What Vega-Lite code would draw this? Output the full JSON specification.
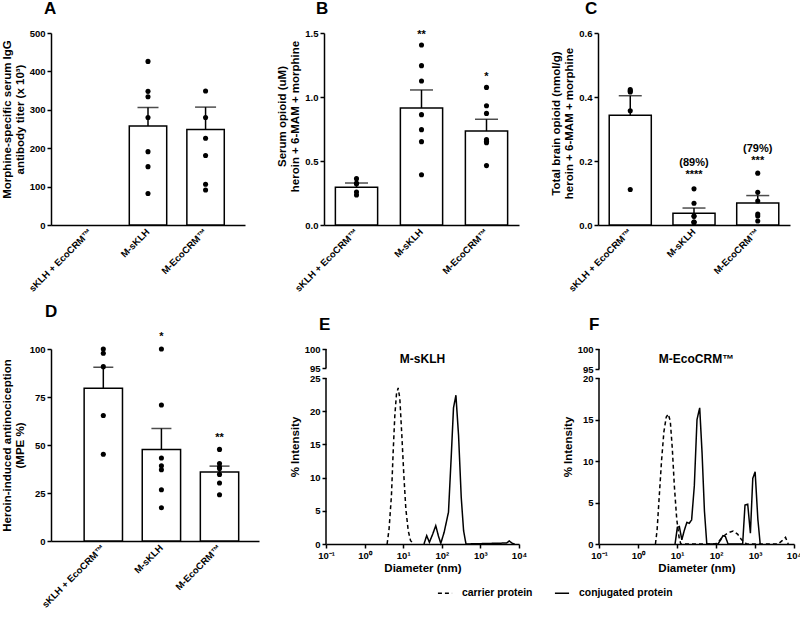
{
"$schema": "https://vega.github.io/schema/vega-lite/v6.json",
"padding": {"left": 1, "top": 0, "right": 0, "bottom": 0},
"background": "white",
"config": {
 "font": "Liberation Sans",
 "view": {"stroke": null},
 "axis": {"labelFont": "Liberation Sans", "labelFontWeight": "bold", "labelFontSize": 9.5, "labelColor": "black", "titleFont": "Liberation Sans", "titleFontWeight": "bold", "titleFontSize": 11.5, "titleColor": "black", "domainColor": "black", "domainWidth": 1.5, "tickColor": "black", "tickWidth": 1.5, "tickSize": 4, "grid": false, "labelPadding": 2, "titlePadding": 4, "titleLineHeight": 13, "labelOverlap": false},
 "title": {"font": "Liberation Sans", "fontSize": 17, "fontWeight": "bold", "anchor": "start", "frame": "group", "color": "black"},
 "text": {"font": "Liberation Sans", "fontWeight": "bold", "color": "black"}
},
"datasets": {
 "bars": [
  {"panel": "A", "group": "M-sKLH", "mean": 258, "upper": 306},
  {"panel": "A", "group": "M-EcoCRM™", "mean": 249, "upper": 307},
  {"panel": "B", "group": "sKLH + EcoCRM™", "mean": 0.294, "upper": 0.328},
  {"panel": "B", "group": "M-sKLH", "mean": 0.914, "upper": 1.055},
  {"panel": "B", "group": "M-EcoCRM™", "mean": 0.734, "upper": 0.826},
  {"panel": "C", "group": "sKLH + EcoCRM™", "mean": 0.343, "upper": 0.404},
  {"panel": "C", "group": "M-sKLH", "mean": 0.037, "upper": 0.053},
  {"panel": "C", "group": "M-EcoCRM™", "mean": 0.069, "upper": 0.092},
  {"panel": "D", "group": "sKLH + EcoCRM™", "mean": 79.6, "upper": 90.5},
  {"panel": "D", "group": "M-sKLH", "mean": 47.6, "upper": 58.6},
  {"panel": "D", "group": "M-EcoCRM™", "mean": 36.0, "upper": 39.0}
 ],
 "dots": [
  {"panel": "A", "group": "M-sKLH", "value": 426},
  {"panel": "A", "group": "M-sKLH", "value": 348},
  {"panel": "A", "group": "M-sKLH", "value": 334},
  {"panel": "A", "group": "M-sKLH", "value": 280},
  {"panel": "A", "group": "M-sKLH", "value": 191},
  {"panel": "A", "group": "M-sKLH", "value": 152},
  {"panel": "A", "group": "M-sKLH", "value": 82},
  {"panel": "A", "group": "M-EcoCRM™", "value": 349},
  {"panel": "A", "group": "M-EcoCRM™", "value": 280},
  {"panel": "A", "group": "M-EcoCRM™", "value": 226},
  {"panel": "A", "group": "M-EcoCRM™", "value": 181},
  {"panel": "A", "group": "M-EcoCRM™", "value": 106},
  {"panel": "A", "group": "M-EcoCRM™", "value": 91},
  {"panel": "B", "group": "sKLH + EcoCRM™", "value": 0.326},
  {"panel": "B", "group": "sKLH + EcoCRM™", "value": 0.323},
  {"panel": "B", "group": "sKLH + EcoCRM™", "value": 0.362},
  {"panel": "B", "group": "sKLH + EcoCRM™", "value": 0.234},
  {"panel": "B", "group": "sKLH + EcoCRM™", "value": 0.258},
  {"panel": "B", "group": "M-sKLH", "value": 1.406},
  {"panel": "B", "group": "M-sKLH", "value": 1.245},
  {"panel": "B", "group": "M-sKLH", "value": 1.125},
  {"panel": "B", "group": "M-sKLH", "value": 0.862},
  {"panel": "B", "group": "M-sKLH", "value": 0.745},
  {"panel": "B", "group": "M-sKLH", "value": 0.651},
  {"panel": "B", "group": "M-sKLH", "value": 0.393},
  {"panel": "B", "group": "M-EcoCRM™", "value": 1.075},
  {"panel": "B", "group": "M-EcoCRM™", "value": 0.932},
  {"panel": "B", "group": "M-EcoCRM™", "value": 0.872},
  {"panel": "B", "group": "M-EcoCRM™", "value": 0.667},
  {"panel": "B", "group": "M-EcoCRM™", "value": 0.654},
  {"panel": "B", "group": "M-EcoCRM™", "value": 0.643},
  {"panel": "B", "group": "M-EcoCRM™", "value": 0.464},
  {"panel": "C", "group": "sKLH + EcoCRM™", "value": 0.423},
  {"panel": "C", "group": "sKLH + EcoCRM™", "value": 0.416},
  {"panel": "C", "group": "sKLH + EcoCRM™", "value": 0.419},
  {"panel": "C", "group": "sKLH + EcoCRM™", "value": 0.357},
  {"panel": "C", "group": "sKLH + EcoCRM™", "value": 0.111},
  {"panel": "C", "group": "M-sKLH", "value": 0.113},
  {"panel": "C", "group": "M-sKLH", "value": 0.068},
  {"panel": "C", "group": "M-sKLH", "value": 0.028},
  {"panel": "C", "group": "M-sKLH", "value": 0.027},
  {"panel": "C", "group": "M-sKLH", "value": 0.009},
  {"panel": "C", "group": "M-sKLH", "value": 0.009},
  {"panel": "C", "group": "M-sKLH", "value": 0.008},
  {"panel": "C", "group": "M-EcoCRM™", "value": 0.162},
  {"panel": "C", "group": "M-EcoCRM™", "value": 0.102},
  {"panel": "C", "group": "M-EcoCRM™", "value": 0.075},
  {"panel": "C", "group": "M-EcoCRM™", "value": 0.034},
  {"panel": "C", "group": "M-EcoCRM™", "value": 0.028},
  {"panel": "C", "group": "M-EcoCRM™", "value": 0.0125},
  {"panel": "D", "group": "sKLH + EcoCRM™", "value": 100},
  {"panel": "D", "group": "sKLH + EcoCRM™", "value": 97.8},
  {"panel": "D", "group": "sKLH + EcoCRM™", "value": 90.8},
  {"panel": "D", "group": "sKLH + EcoCRM™", "value": 65.4},
  {"panel": "D", "group": "sKLH + EcoCRM™", "value": 45.2},
  {"panel": "D", "group": "M-sKLH", "value": 100},
  {"panel": "D", "group": "M-sKLH", "value": 70.8},
  {"panel": "D", "group": "M-sKLH", "value": 43.2},
  {"panel": "D", "group": "M-sKLH", "value": 39.2},
  {"panel": "D", "group": "M-sKLH", "value": 37.1},
  {"panel": "D", "group": "M-sKLH", "value": 26.7},
  {"panel": "D", "group": "M-sKLH", "value": 17.3},
  {"panel": "D", "group": "M-EcoCRM™", "value": 47.7},
  {"panel": "D", "group": "M-EcoCRM™", "value": 40.3},
  {"panel": "D", "group": "M-EcoCRM™", "value": 38.5},
  {"panel": "D", "group": "M-EcoCRM™", "value": 37.7},
  {"panel": "D", "group": "M-EcoCRM™", "value": 34.7},
  {"panel": "D", "group": "M-EcoCRM™", "value": 30.2},
  {"panel": "D", "group": "M-EcoCRM™", "value": 24.1}
 ],
 "dls": [
  {"panel": "E", "protein": "carrier protein", "diameter": 3.83, "intensity": 0},
  {"panel": "E", "protein": "carrier protein", "diameter": 4.31, "intensity": 2.3},
  {"panel": "E", "protein": "carrier protein", "diameter": 4.96, "intensity": 7.3},
  {"panel": "E", "protein": "carrier protein", "diameter": 5.49, "intensity": 13.8},
  {"panel": "E", "protein": "carrier protein", "diameter": 6.06, "intensity": 19.3},
  {"panel": "E", "protein": "carrier protein", "diameter": 6.70, "intensity": 22.6},
  {"panel": "E", "protein": "carrier protein", "diameter": 7.41, "intensity": 23.5},
  {"panel": "E", "protein": "carrier protein", "diameter": 8.18, "intensity": 21.9},
  {"panel": "E", "protein": "carrier protein", "diameter": 9.23, "intensity": 16.3},
  {"panel": "E", "protein": "carrier protein", "diameter": 10.4, "intensity": 10.3},
  {"panel": "E", "protein": "carrier protein", "diameter": 11.7, "intensity": 5.3},
  {"panel": "E", "protein": "carrier protein", "diameter": 13.5, "intensity": 2.0},
  {"panel": "E", "protein": "carrier protein", "diameter": 15.5, "intensity": 0.5},
  {"panel": "E", "protein": "carrier protein", "diameter": 19.0, "intensity": 0},
  {"panel": "E", "protein": "conjugated protein", "diameter": 34.6, "intensity": 0},
  {"panel": "E", "protein": "conjugated protein", "diameter": 40.6, "intensity": 1.26},
  {"panel": "E", "protein": "conjugated protein", "diameter": 47.7, "intensity": 0.25},
  {"panel": "E", "protein": "conjugated protein", "diameter": 58.2, "intensity": 1.5},
  {"panel": "E", "protein": "conjugated protein", "diameter": 69.7, "intensity": 2.76},
  {"panel": "E", "protein": "conjugated protein", "diameter": 81.8, "intensity": 1.2},
  {"panel": "E", "protein": "conjugated protein", "diameter": 94.2, "intensity": 0.1},
  {"panel": "E", "protein": "conjugated protein", "diameter": 115, "intensity": 1.76},
  {"panel": "E", "protein": "conjugated protein", "diameter": 149, "intensity": 4.8},
  {"panel": "E", "protein": "conjugated protein", "diameter": 175, "intensity": 13},
  {"panel": "E", "protein": "conjugated protein", "diameter": 201, "intensity": 20.5},
  {"panel": "E", "protein": "conjugated protein", "diameter": 232, "intensity": 22.4},
  {"panel": "E", "protein": "conjugated protein", "diameter": 272, "intensity": 16.3},
  {"panel": "E", "protein": "conjugated protein", "diameter": 319, "intensity": 7},
  {"panel": "E", "protein": "conjugated protein", "diameter": 367, "intensity": 2},
  {"panel": "E", "protein": "conjugated protein", "diameter": 423, "intensity": 0},
  {"panel": "E", "protein": "conjugated protein", "diameter": 4764, "intensity": 0.15},
  {"panel": "E", "protein": "conjugated protein", "diameter": 5594, "intensity": 0.45},
  {"panel": "E", "protein": "conjugated protein", "diameter": 6700, "intensity": 0.1},
  {"panel": "E", "protein": "conjugated protein", "diameter": 7712, "intensity": 0},
  {"panel": "F", "protein": "carrier protein", "diameter": 2.80, "intensity": 0},
  {"panel": "F", "protein": "carrier protein", "diameter": 3.09, "intensity": 1.7},
  {"panel": "F", "protein": "carrier protein", "diameter": 3.48, "intensity": 5.5},
  {"panel": "F", "protein": "carrier protein", "diameter": 4.01, "intensity": 10},
  {"panel": "F", "protein": "carrier protein", "diameter": 4.61, "intensity": 13.5},
  {"panel": "F", "protein": "carrier protein", "diameter": 5.30, "intensity": 15.3},
  {"panel": "F", "protein": "carrier protein", "diameter": 5.97, "intensity": 15.65},
  {"panel": "F", "protein": "carrier protein", "diameter": 6.73, "intensity": 14.8},
  {"panel": "F", "protein": "carrier protein", "diameter": 7.58, "intensity": 11.5},
  {"panel": "F", "protein": "carrier protein", "diameter": 8.55, "intensity": 7},
  {"panel": "F", "protein": "carrier protein", "diameter": 9.84, "intensity": 3},
  {"panel": "F", "protein": "carrier protein", "diameter": 11.3, "intensity": 0.8},
  {"panel": "F", "protein": "carrier protein", "diameter": 12.5, "intensity": 0},
  {"panel": "F", "protein": "carrier protein", "diameter": 95.7, "intensity": 0},
  {"panel": "F", "protein": "carrier protein", "diameter": 117, "intensity": 0.3},
  {"panel": "F", "protein": "carrier protein", "diameter": 151, "intensity": 0.9},
  {"panel": "F", "protein": "carrier protein", "diameter": 204, "intensity": 1.35},
  {"panel": "F", "protein": "carrier protein", "diameter": 275, "intensity": 1.57},
  {"panel": "F", "protein": "carrier protein", "diameter": 357, "intensity": 1.2},
  {"panel": "F", "protein": "carrier protein", "diameter": 454, "intensity": 0.5},
  {"panel": "F", "protein": "carrier protein", "diameter": 612, "intensity": 0},
  {"panel": "F", "protein": "carrier protein", "diameter": 3917, "intensity": 0},
  {"panel": "F", "protein": "carrier protein", "diameter": 4977, "intensity": 0.4},
  {"panel": "F", "protein": "carrier protein", "diameter": 6067, "intensity": 0.8},
  {"panel": "F", "protein": "carrier protein", "diameter": 7124, "intensity": 0},
  {"panel": "F", "protein": "conjugated protein", "diameter": 8.91, "intensity": 0},
  {"panel": "F", "protein": "conjugated protein", "diameter": 10.2, "intensity": 2.0},
  {"panel": "F", "protein": "conjugated protein", "diameter": 11.5, "intensity": 2.1},
  {"panel": "F", "protein": "conjugated protein", "diameter": 13.3, "intensity": 0.5},
  {"panel": "F", "protein": "conjugated protein", "diameter": 15.3, "intensity": 1.6},
  {"panel": "F", "protein": "conjugated protein", "diameter": 17.9, "intensity": 2.6},
  {"panel": "F", "protein": "conjugated protein", "diameter": 20.6, "intensity": 2.5},
  {"panel": "F", "protein": "conjugated protein", "diameter": 23.7, "intensity": 2.9},
  {"panel": "F", "protein": "conjugated protein", "diameter": 27.8, "intensity": 7},
  {"panel": "F", "protein": "conjugated protein", "diameter": 32.6, "intensity": 15},
  {"panel": "F", "protein": "conjugated protein", "diameter": 38.2, "intensity": 16.4},
  {"panel": "F", "protein": "conjugated protein", "diameter": 43.9, "intensity": 11},
  {"panel": "F", "protein": "conjugated protein", "diameter": 50.5, "intensity": 4},
  {"panel": "F", "protein": "conjugated protein", "diameter": 58.1, "intensity": 0},
  {"panel": "F", "protein": "conjugated protein", "diameter": 112, "intensity": 0},
  {"panel": "F", "protein": "conjugated protein", "diameter": 132, "intensity": 0.5},
  {"panel": "F", "protein": "conjugated protein", "diameter": 151, "intensity": 1.0},
  {"panel": "F", "protein": "conjugated protein", "diameter": 174, "intensity": 0.9},
  {"panel": "F", "protein": "conjugated protein", "diameter": 204, "intensity": 0},
  {"panel": "F", "protein": "conjugated protein", "diameter": 482, "intensity": 0},
  {"panel": "F", "protein": "conjugated protein", "diameter": 554, "intensity": 4.7},
  {"panel": "F", "protein": "conjugated protein", "diameter": 650, "intensity": 4.8},
  {"panel": "F", "protein": "conjugated protein", "diameter": 762, "intensity": 1.3},
  {"panel": "F", "protein": "conjugated protein", "diameter": 877, "intensity": 7.9},
  {"panel": "F", "protein": "conjugated protein", "diameter": 1008, "intensity": 8.7},
  {"panel": "F", "protein": "conjugated protein", "diameter": 1183, "intensity": 3},
  {"panel": "F", "protein": "conjugated protein", "diameter": 1358, "intensity": 0}
 ]
},
"spacing": 10,
"vconcat": [
 {"spacing": 79, "bounds": "flush", "hconcat": [
  {"width": 194, "height": 192, "title": {"text": "A", "dx": -7, "offset": 10},
   "encoding": {"x": {"field": "group", "type": "nominal", "scale": {"domain": ["sKLH + EcoCRM™", "M-sKLH", "M-EcoCRM™"], "paddingInner": 0.35, "paddingOuter": 0.36}, "axis": {"title": null, "labelAngle": -45, "labelAlign": "right", "labelBaseline": "middle", "ticks": false, "labelPadding": 5}}},
   "layer": [
    {"data": {"name": "bars"}, "transform": [{"filter": "datum.panel === 'A'"}], "mark": {"type": "bar", "fill": "white", "stroke": "black", "strokeWidth": 1.5}, "encoding": {"y": {"field": "mean", "type": "quantitative", "scale": {"domain": [0, 500], "nice": false}, "axis": {"values": [0, 100, 200, 300, 400, 500], "tickCount": 20, "titleY": 86, "title": ["Morphine-specific serum IgG", "antibody titer (x 10³)"]}}}},
    {"data": {"name": "bars"}, "transform": [{"filter": "datum.panel === 'A'"}], "mark": {"type": "rule", "color": "black", "strokeWidth": 1.5}, "encoding": {"y": {"field": "mean", "type": "quantitative"}, "y2": {"field": "upper"}}},
    {"data": {"name": "bars"}, "transform": [{"filter": "datum.panel === 'A'"}], "mark": {"type": "tick", "color": "black", "thickness": 1.5, "size": 21, "orient": "horizontal"}, "encoding": {"y": {"field": "upper", "type": "quantitative"}}},
    {"data": {"name": "dots"}, "transform": [{"filter": "datum.panel === 'A'"}], "mark": {"type": "circle", "color": "black", "opacity": 1, "size": 26}, "encoding": {"y": {"field": "value", "type": "quantitative"}}}
   ]},
  {"width": 195, "height": 192, "title": {"text": "B", "dx": -8, "offset": 10},
   "encoding": {"x": {"field": "group", "type": "nominal", "scale": {"domain": ["sKLH + EcoCRM™", "M-sKLH", "M-EcoCRM™"], "paddingInner": 0.35, "paddingOuter": 0.175}, "axis": {"title": null, "labelAngle": -45, "labelAlign": "right", "labelBaseline": "middle", "ticks": false, "labelPadding": 5}}},
   "layer": [
    {"data": {"name": "bars"}, "transform": [{"filter": "datum.panel === 'B'"}], "mark": {"type": "bar", "fill": "white", "stroke": "black", "strokeWidth": 1.5}, "encoding": {"y": {"field": "mean", "type": "quantitative", "scale": {"domain": [0, 1.5], "nice": false}, "axis": {"values": [0, 0.5, 1, 1.5], "tickCount": 20, "format": ".1f", "titleY": 83, "title": ["Serum opioid (uM)", "heroin + 6-MAM + morphine"]}}}},
    {"data": {"name": "bars"}, "transform": [{"filter": "datum.panel === 'B'"}], "mark": {"type": "rule", "color": "black", "strokeWidth": 1.5}, "encoding": {"y": {"field": "mean", "type": "quantitative"}, "y2": {"field": "upper"}}},
    {"data": {"name": "bars"}, "transform": [{"filter": "datum.panel === 'B'"}], "mark": {"type": "tick", "color": "black", "thickness": 1.5, "size": 23, "orient": "horizontal"}, "encoding": {"y": {"field": "upper", "type": "quantitative"}}},
    {"data": {"name": "dots"}, "transform": [{"filter": "datum.panel === 'B'"}], "mark": {"type": "circle", "color": "black", "opacity": 1, "size": 26}, "encoding": {"y": {"field": "value", "type": "quantitative"}}},
    {"data": {"name": "dots"}, "transform": [{"filter": "datum.panel === 'B' && datum.group === 'M-sKLH'"}, {"aggregate": [{"op": "max", "field": "value", "as": "top"}], "groupby": ["group"]}], "mark": {"type": "text", "text": "**", "fontSize": 11, "baseline": "bottom", "dy": -5}, "encoding": {"y": {"field": "top", "type": "quantitative"}}},
    {"data": {"name": "dots"}, "transform": [{"filter": "datum.panel === 'B' && datum.group === 'M-EcoCRM™'"}, {"aggregate": [{"op": "max", "field": "value", "as": "top"}], "groupby": ["group"]}], "mark": {"type": "text", "text": "*", "fontSize": 11, "baseline": "bottom", "dy": -5}, "encoding": {"y": {"field": "top", "type": "quantitative"}}}
   ]},
  {"width": 192, "height": 192, "title": {"text": "C", "dx": -13, "offset": 10},
   "encoding": {"x": {"field": "group", "type": "nominal", "scale": {"domain": ["sKLH + EcoCRM™", "M-sKLH", "M-EcoCRM™"], "paddingInner": 0.34, "paddingOuter": 0.176}, "axis": {"title": null, "labelAngle": -45, "labelAlign": "right", "labelBaseline": "middle", "ticks": false, "labelPadding": 5}}},
   "layer": [
    {"data": {"name": "bars"}, "transform": [{"filter": "datum.panel === 'C'"}], "mark": {"type": "bar", "fill": "white", "stroke": "black", "strokeWidth": 1.5}, "encoding": {"y": {"field": "mean", "type": "quantitative", "scale": {"domain": [0, 0.6], "nice": false}, "axis": {"values": [0, 0.2, 0.4, 0.6], "tickCount": 20, "format": ".1f", "titleY": 90, "title": ["Total brain opioid (nmol/g)", "heroin + 6-MAM + morphine"]}}}},
    {"data": {"name": "bars"}, "transform": [{"filter": "datum.panel === 'C'"}], "mark": {"type": "rule", "color": "black", "strokeWidth": 1.5}, "encoding": {"y": {"field": "mean", "type": "quantitative"}, "y2": {"field": "upper"}}},
    {"data": {"name": "bars"}, "transform": [{"filter": "datum.panel === 'C'"}], "mark": {"type": "tick", "color": "black", "thickness": 1.5, "size": 23, "orient": "horizontal"}, "encoding": {"y": {"field": "upper", "type": "quantitative"}}},
    {"data": {"name": "dots"}, "transform": [{"filter": "datum.panel === 'C'"}], "mark": {"type": "circle", "color": "black", "opacity": 1, "size": 26}, "encoding": {"y": {"field": "value", "type": "quantitative"}}},
    {"data": {"name": "dots"}, "transform": [{"filter": "datum.panel === 'C' && datum.group === 'M-sKLH'"}, {"aggregate": [{"op": "max", "field": "value", "as": "top"}], "groupby": ["group"]}], "mark": {"type": "text", "text": ["(89%)", "****"], "lineHeight": 12, "fontSize": 11, "baseline": "bottom", "dy": -21}, "encoding": {"y": {"field": "top", "type": "quantitative"}}},
    {"data": {"name": "dots"}, "transform": [{"filter": "datum.panel === 'C' && datum.group === 'M-EcoCRM™'"}, {"aggregate": [{"op": "max", "field": "value", "as": "top"}], "groupby": ["group"]}], "mark": {"type": "text", "text": ["(79%)", "***"], "lineHeight": 12, "fontSize": 11, "baseline": "bottom", "dy": -19}, "encoding": {"y": {"field": "top", "type": "quantitative"}}}
   ]}
 ]},
 {"spacing": 67, "bounds": "flush", "hconcat": [
  {"width": 208, "height": 192, "title": {"text": "D", "dx": -6, "offset": 10},
   "encoding": {"x": {"field": "group", "type": "nominal", "scale": {"domain": ["sKLH + EcoCRM™", "M-sKLH", "M-EcoCRM™"], "paddingInner": 0.34, "paddingOuter": 0.46, "align": 0.62}, "axis": {"title": null, "labelAngle": -45, "labelAlign": "right", "labelBaseline": "middle", "ticks": false, "labelPadding": 5}}},
   "layer": [
    {"data": {"name": "bars"}, "transform": [{"filter": "datum.panel === 'D'"}], "mark": {"type": "bar", "fill": "white", "stroke": "black", "strokeWidth": 1.5}, "encoding": {"y": {"field": "mean", "type": "quantitative", "scale": {"domain": [0, 100], "nice": false}, "axis": {"values": [0, 25, 50, 75, 100], "tickCount": 20, "title": ["Heroin-induced antinociception", "(MPE %)"]}}}},
    {"data": {"name": "bars"}, "transform": [{"filter": "datum.panel === 'D'"}], "mark": {"type": "rule", "color": "black", "strokeWidth": 1.5}, "encoding": {"y": {"field": "mean", "type": "quantitative"}, "y2": {"field": "upper"}}},
    {"data": {"name": "bars"}, "transform": [{"filter": "datum.panel === 'D'"}], "mark": {"type": "tick", "color": "black", "thickness": 1.5, "size": 20, "orient": "horizontal"}, "encoding": {"y": {"field": "upper", "type": "quantitative"}}},
    {"data": {"name": "dots"}, "transform": [{"filter": "datum.panel === 'D'"}], "mark": {"type": "circle", "color": "black", "opacity": 1, "size": 26}, "encoding": {"y": {"field": "value", "type": "quantitative"}}},
    {"data": {"name": "dots"}, "transform": [{"filter": "datum.panel === 'D' && datum.group === 'M-sKLH'"}, {"aggregate": [{"op": "max", "field": "value", "as": "top"}], "groupby": ["group"]}], "mark": {"type": "text", "text": "*", "fontSize": 11, "baseline": "bottom", "dy": -7}, "encoding": {"y": {"field": "top", "type": "quantitative"}}},
    {"data": {"name": "dots"}, "transform": [{"filter": "datum.panel === 'D' && datum.group === 'M-EcoCRM™'"}, {"aggregate": [{"op": "max", "field": "value", "as": "top"}], "groupby": ["group"]}], "mark": {"type": "text", "text": "**", "fontSize": 11, "baseline": "bottom", "dy": -6}, "encoding": {"y": {"field": "top", "type": "quantitative"}}}
   ]},
  {"width": 206, "height": 195, "title": {"text": "E", "dx": -7, "offset": 10},
   "encoding": {"x": {"type": "quantitative", "scale": {"type": "log", "domain": [0.1, 10000], "range": [0, 193], "nice": false}, "axis": {"values": [0.1, 1, 10, 100, 1000, 10000], "tickCount": 20, "labelFlush": false, "labelExpr": "datum.value < 0.5 ? '10⁻¹' : datum.value < 5 ? '10⁰' : datum.value < 50 ? '10¹' : datum.value < 500 ? '10²' : datum.value < 5000 ? '10³' : '10⁴'", "title": "Diameter (nm)", "titlePadding": 3}}},
   "layer": [
    {"data": {"name": "dls"}, "transform": [{"filter": "datum.panel === 'E'"}], "mark": {"type": "line", "color": "black", "strokeWidth": 1.5}, "encoding": {"x": {"field": "diameter", "type": "quantitative"}, "y": {"field": "intensity", "type": "quantitative", "scale": {"domain": [0, 25, 95, 100], "range": [195, 29, 19, 0], "nice": false, "zero": false}, "axis": {"values": [0, 5, 10, 15, 20, 25, 95, 100], "tickCount": 20, "domain": false, "title": "% Intensity"}}, "strokeDash": {"field": "protein", "type": "nominal", "scale": {"domain": ["carrier protein", "conjugated protein"], "range": [[4, 3], [1, 0]]}, "legend": {"orient": "none", "legendX": 386, "legendY": 552, "direction": "horizontal", "title": null, "symbolType": "stroke", "symbolStrokeColor": "black", "symbolStrokeWidth": 1.5, "symbolSize": 200, "labelFont": "Liberation Sans", "labelFontSize": 10.4, "labelFontWeight": "bold", "labelColor": "black", "columnPadding": 18, "labelOffset": 9}}}},
    {"data": {"values": [{}]}, "mark": {"type": "rule", "color": "black", "strokeWidth": 1.5}, "encoding": {"x": {"datum": 0.1, "type": "quantitative"}, "y": {"datum": 0, "type": "quantitative"}, "y2": {"datum": 25}}},
    {"data": {"values": [{}]}, "mark": {"type": "rule", "color": "black", "strokeWidth": 1.5}, "encoding": {"x": {"datum": 0.1, "type": "quantitative"}, "y": {"datum": 95, "type": "quantitative"}, "y2": {"datum": 100}}},
    {"data": {"values": [{}]}, "mark": {"type": "text", "text": "M-sKLH", "fontSize": 12}, "encoding": {"x": {"datum": 31.62, "type": "quantitative"}, "y": {"datum": 97.5, "type": "quantitative"}}}
   ]},
  {"width": 195, "height": 195, "title": {"text": "F", "dx": -10, "offset": 10},
   "encoding": {"x": {"type": "quantitative", "scale": {"type": "log", "domain": [0.1, 10000], "nice": false}, "axis": {"values": [0.1, 1, 10, 100, 1000, 10000], "tickCount": 20, "labelFlush": false, "labelExpr": "datum.value < 0.5 ? '10⁻¹' : datum.value < 5 ? '10⁰' : datum.value < 50 ? '10¹' : datum.value < 500 ? '10²' : datum.value < 5000 ? '10³' : '10⁴'", "title": "Diameter (nm)", "titlePadding": 3}}},
   "layer": [
    {"data": {"name": "dls"}, "transform": [{"filter": "datum.panel === 'F'"}], "mark": {"type": "line", "color": "black", "strokeWidth": 1.5}, "encoding": {"x": {"field": "diameter", "type": "quantitative"}, "y": {"field": "intensity", "type": "quantitative", "scale": {"domain": [0, 20, 95, 100], "range": [195, 29, 20, 0], "nice": false, "zero": false}, "axis": {"values": [0, 5, 10, 15, 20, 95, 100], "tickCount": 20, "domain": false, "title": "% Intensity"}}, "strokeDash": {"field": "protein", "type": "nominal", "scale": {"domain": ["carrier protein", "conjugated protein"], "range": [[4, 3], [1, 0]]}, "legend": {"orient": "none", "legendX": 386, "legendY": 552, "direction": "horizontal", "title": null, "symbolType": "stroke", "symbolStrokeColor": "black", "symbolStrokeWidth": 1.5, "symbolSize": 200, "labelFont": "Liberation Sans", "labelFontSize": 10.4, "labelFontWeight": "bold", "labelColor": "black", "columnPadding": 18, "labelOffset": 9}}}},
    {"data": {"values": [{}]}, "mark": {"type": "rule", "color": "black", "strokeWidth": 1.5}, "encoding": {"x": {"datum": 0.1, "type": "quantitative"}, "y": {"datum": 0, "type": "quantitative"}, "y2": {"datum": 20}}},
    {"data": {"values": [{}]}, "mark": {"type": "rule", "color": "black", "strokeWidth": 1.5}, "encoding": {"x": {"datum": 0.1, "type": "quantitative"}, "y": {"datum": 95, "type": "quantitative"}, "y2": {"datum": 100}}},
    {"data": {"values": [{}]}, "mark": {"type": "text", "text": "M-EcoCRM™", "fontSize": 12}, "encoding": {"x": {"datum": 31.62, "type": "quantitative"}, "y": {"datum": 97.5, "type": "quantitative"}}}
   ]}
 ]}
]
}
